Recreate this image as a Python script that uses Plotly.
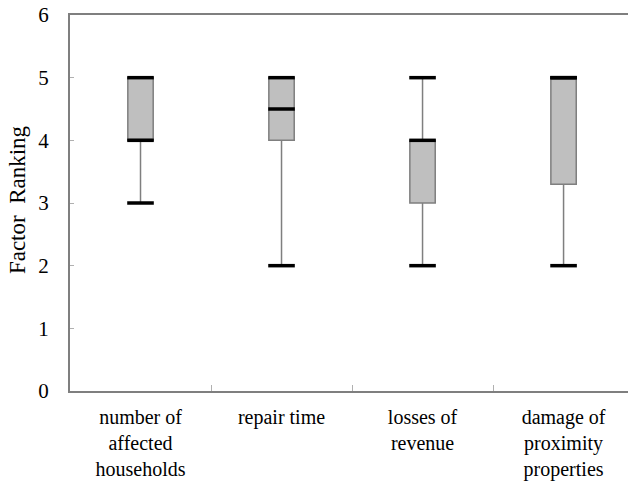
import plotly.graph_objects as go

categories = ["number of<br>affected<br>households", "repair time", "losses of<br>revenue", "damage of<br>proximity<br>properties"]
mins = [3, 2, 2, 2]
q1s = [4, 4, 3, 3.3]
medians = [4, 4.5, 4, 5]
q3s = [5, 5, 4, 5]
maxs = [5, 5, 5, 5]
y_ticks = [0, 1, 2, 3, 4, 5, 6]
y_title = "Factor\u00a0 Ranking"

FONT = "Liberation Serif"
GRAY = "#7f7f7f"

fig = go.Figure()
fig.add_trace(go.Box(
    x=categories, q1=q1s, median=medians, q3=q3s,
    lowerfence=mins, upperfence=maxs,
    fillcolor="#bfbfbf", line=dict(color=GRAY, width=1.5),
    whiskerwidth=0, width=0.18, boxpoints=False, hoverinfo="skip",
    showlegend=False,
))
cap_x = categories * 3
cap_y = mins + maxs + medians
fig.add_trace(go.Scatter(
    x=cap_x, y=cap_y, mode="markers",
    marker=dict(symbol="line-ew", size=19, line=dict(color="black", width=3.5)),
    showlegend=False, hoverinfo="skip",
))

fig.update_layout(
    width=628, height=483,
    margin=dict(l=70, r=0, t=15, b=92),
    paper_bgcolor="white", plot_bgcolor="white",
    font=dict(family=FONT, size=21, color="black"),
)
fig.add_annotation(
    text=y_title, textangle=-90, showarrow=False,
    xref="paper", yref="paper", x=-0.093, y=0.508,
    xanchor="center", yanchor="middle",
    font=dict(family=FONT, size=23, color="black"),
)
fig.update_xaxes(
    type="category", categoryorder="array", categoryarray=categories,
    range=[-0.5, 3.457], automargin=False,
    showline=True, linecolor=GRAY, linewidth=2, mirror=True,
    showgrid=False, zeroline=False,
    ticks="inside", ticklen=6, tickcolor="#b0b0b0", tickwidth=1,
    tickson="boundaries", ticklabelstandoff=7,
    tickfont=dict(family=FONT, size=20, color="black"),
)
fig.update_yaxes(
    range=[0, 6], tickvals=y_ticks, ticktext=[str(v) for v in y_ticks],
    automargin=False,
    showline=True, linecolor=GRAY, linewidth=2,
    showgrid=False, zeroline=False,
    ticks="inside", ticklen=4, tickcolor="#b0b0b0", tickwidth=1,
    ticklabelstandoff=15,
    tickfont=dict(family=FONT, size=21, color="black"),
)

fig.write_html(
    "out.html",
    config={"displayModeBar": False},
    post_script="document.body.style.margin='0';document.body.style.overflow='hidden';",
)
